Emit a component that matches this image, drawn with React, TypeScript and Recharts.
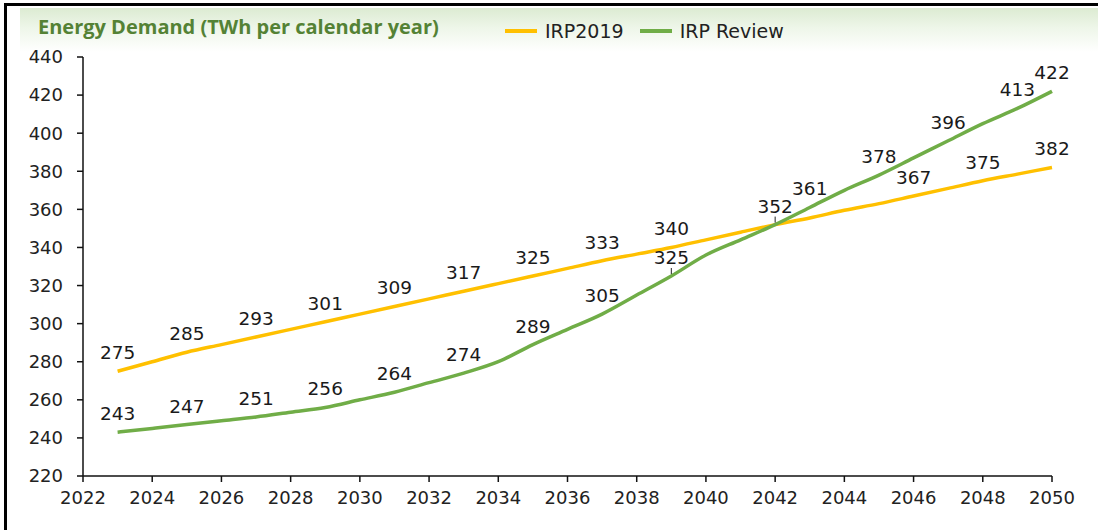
import React from "react";
import { LineChart, Line, XAxis, YAxis, LabelList } from "recharts";

const years = [
  2023, 2024, 2025, 2026, 2027, 2028, 2029, 2030, 2031, 2032, 2033, 2034, 2035, 2036,
  2037, 2038, 2039, 2040, 2041, 2042, 2043, 2044, 2045, 2046, 2047, 2048, 2049, 2050,
];
const irp2019 = [
  275, 280, 285, 289, 293, 297, 301, 305, 309, 313, 317, 321, 325, 329,
  333, 336.5, 340, 344, 348, 352, 355.5, 359.5, 363, 367, 371, 375, 378.5, 382,
];
const irpReview = [
  243, 245, 247, 249, 251, 253.5, 256, 260, 264, 269, 274, 280, 289, 297,
  305, 315, 325, 336, 344, 352, 361, 370, 378, 387, 396, 405, 413, 422,
];
const labelled2019 = [2023, 2025, 2027, 2029, 2031, 2033, 2035, 2037, 2039, 2042, 2046, 2048, 2050];
const labelledReview = [2023, 2025, 2027, 2029, 2031, 2033, 2035, 2037, 2039, 2043, 2045, 2047, 2049, 2050];
const leaderYears2019 = [2042];
const leaderYearsReview = [2039];
const xTicks = [2022, 2024, 2026, 2028, 2030, 2032, 2034, 2036, 2038, 2040, 2042, 2044, 2046, 2048, 2050];
const yTicks = [220, 240, 260, 280, 300, 320, 340, 360, 380, 400, 420, 440];

const data = years.map((year, i) => ({
  year,
  irp2019: irp2019[i],
  irpReview: irpReview[i],
}));

const YELLOW = "#FFC000";
const GREEN = "#70AD47";
const FONT = "'DejaVu Sans', Verdana, sans-serif";

function makeLabel(shown: number[], leaders: number[]) {
  return (props: any) => {
    const { x, y, value, index } = props;
    const year = years[index];
    if (!shown.includes(year)) return null;
    return (
      <g>
        {leaders.includes(year) && (
          <line x1={x} x2={x} y1={y - 8} y2={y - 2} stroke="#222" strokeWidth={1} />
        )}
        <text
          x={x}
          y={y - 17}
          textAnchor="middle"
          dominantBaseline="middle"
          fontSize={18.5}
          fontFamily={FONT}
          fill="#1a1a1a"
        >
          {Math.round(value)}
        </text>
      </g>
    );
  };
}

const legendItems = [
  { name: "IRP2019", color: YELLOW },
  { name: "IRP Review", color: GREEN },
];

export default function App() {
  return (
    <div style={{ position: "absolute", left: 0, top: 0, width: 1098, height: 530, background: "#fff", overflow: "hidden" }}>
      <div
        style={{
          position: "absolute",
          left: 20,
          top: 8,
          width: 1078,
          height: 44,
          background: "linear-gradient(to bottom, #dcebd2 0%, #eef6e9 45%, #ffffff 100%)",
        }}
      />
      <div
        style={{
          position: "absolute",
          left: 4,
          top: 3,
          width: 1100,
          height: 540,
          borderTop: "3px solid #000",
          borderLeft: "3px solid #000",
        }}
      />
      <div
        style={{
          position: "absolute",
          left: 38,
          top: 14,
          fontFamily: "'Open Sans', sans-serif",
          fontWeight: 700,
          fontSize: 20,
          lineHeight: "26px",
          color: "#548235",
        }}
      >
        Energy Demand (TWh per calendar year)
      </div>
      <div
        style={{
          position: "absolute",
          left: 505,
          top: 19,
          display: "flex",
          alignItems: "center",
          fontFamily: FONT,
          fontSize: 19,
          lineHeight: "24px",
          color: "#222",
        }}
      >
        {legendItems.map((it) => (
          <div key={it.name} style={{ display: "flex", alignItems: "center", marginRight: 16 }}>
            <div style={{ width: 32, height: 4, background: it.color, marginRight: 8 }} />
            <span>{it.name}</span>
          </div>
        ))}
      </div>
      <div style={{ position: "absolute", left: 0, top: 0 }}>
        <LineChart width={1098} height={530} data={data} margin={{ top: 57, right: 46, bottom: 14, left: 0 }}>
          <XAxis
            dataKey="year"
            type="number"
            domain={[2022, 2050]}
            ticks={xTicks}
            interval={0}
            stroke="#111"
            strokeWidth={1.5}
            tickSize={6}
            tickMargin={9}
            height={40}
            tick={{ fill: "#222", fontSize: 18, fontFamily: FONT }}
          />
          <YAxis
            type="number"
            domain={[220, 440]}
            ticks={yTicks}
            interval={0}
            width={83}
            stroke="#111"
            strokeWidth={1.5}
            tickSize={6}
            tickMargin={14}
            tick={{ fill: "#222", fontSize: 18, fontFamily: FONT }}
          />
          <Line
            type="monotone"
            dataKey="irp2019"
            name="IRP2019"
            stroke={YELLOW}
            strokeWidth={3.5}
            dot={false}
            isAnimationActive={false}
          >
            <LabelList dataKey="irp2019" content={makeLabel(labelled2019, leaderYears2019)} />
          </Line>
          <Line
            type="monotone"
            dataKey="irpReview"
            name="IRP Review"
            stroke={GREEN}
            strokeWidth={3.5}
            dot={false}
            isAnimationActive={false}
          >
            <LabelList dataKey="irpReview" content={makeLabel(labelledReview, leaderYearsReview)} />
          </Line>
        </LineChart>
      </div>
    </div>
  );
}
